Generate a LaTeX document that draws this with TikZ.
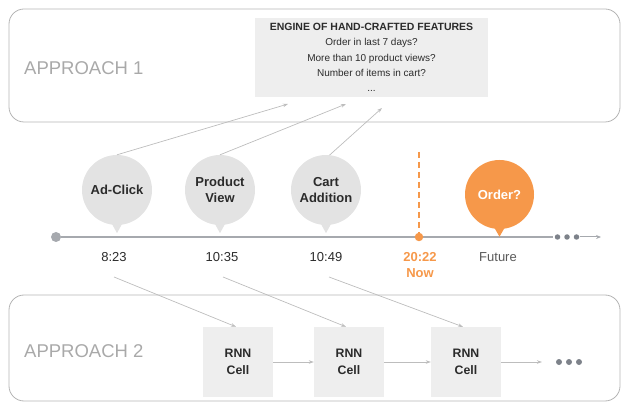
\documentclass[tikz,border=0pt]{standalone}
\usepackage{fontspec}
\setmainfont{Liberation Sans}
\usetikzlibrary{arrows.meta}
\definecolor{framegray}{HTML}{B4B4B4}
\definecolor{labelgray}{HTML}{A9A9A9}
\definecolor{bubblegray}{HTML}{E3E3E3}
\definecolor{boxgray}{HTML}{EEEEEE}
\definecolor{linkgray}{HTML}{BDBDBD}
\definecolor{axisgray}{HTML}{A6A9AE}
\definecolor{dotgray}{HTML}{7D828A}
\definecolor{textdark}{HTML}{2B2B2B}
\definecolor{accent}{HTML}{F6984A}
\tikzset{
  frame/.style={draw=framegray, line width=0.8pt, rounded corners=15pt},
  approach/.style={text=labelgray, font=\fontsize{18.5}{20}\selectfont, anchor=west, inner sep=0pt},
  bubble/.style={circle, fill=bubblegray, minimum size=70pt, inner sep=0pt,
    align=center, text=textdark, font=\fontsize{13}{16}\selectfont\bfseries},
  timelabel/.style={text=textdark, font=\fontsize{13}{16}\selectfont, inner sep=1pt},
  cellbox/.style={fill=boxgray, minimum width=70pt, minimum height=70pt, inner sep=0pt,
    align=center, text=textdark, font=\fontsize{12.3}{17}\selectfont\bfseries},
  link/.style={draw=linkgray, line width=0.7pt, -{Stealth[length=5pt,width=3.5pt]}},
}
\begin{document}
\begin{tikzpicture}[x=1pt, y=-1pt]
\useasboundingbox (0,0) rectangle (621,403);

% approach frames
\draw[frame] (9,9) rectangle (620,122);
\draw[frame] (9,295) rectangle (620,401);
\node[approach] (ap1) at (24,68) {APPROACH 1};
\node[approach] (ap2) at (24,351) {APPROACH 2};

% feature engine box
\node[fill=boxgray, minimum width=233pt, minimum height=79pt, inner sep=0pt,
      align=center, text=textdark, font=\fontsize{10}{15.2}\selectfont] (feat) at (371.5,57.5)
  {{\fontsize{10.5}{15.2}\selectfont\bfseries ENGINE OF HAND-CRAFTED FEATURES}\\
   Order in last 7 days?\\ More than 10 product views?\\ Number of items in cart?\\ ...};

% timeline axis
\node[circle, fill=axisgray, minimum size=10pt, inner sep=0pt] (start) at (56,237) {};
\coordinate (axisend) at (553,237);
\draw[axisgray, line width=1.2pt] (start) -- (axisend);
\node[circle, fill=dotgray, minimum size=5.5pt, inner sep=0pt] (d1) at (557.5,237) {};
\node[circle, fill=dotgray, minimum size=5.5pt, inner sep=0pt] (d2) at (567,237) {};
\node[circle, fill=dotgray, minimum size=5.5pt, inner sep=0pt] (d3) at (576.5,237) {};
\coordinate (axistip) at (601,237);
\draw[axisgray, line width=1pt, -{Stealth[length=5pt,width=4pt]}] (d3) ++(3,0) -- (axistip);

% event bubbles
\foreach \nm/\x/\y/\txt/\col in {adclick/117/190/Ad-Click/bubblegray,
    pview/220/190/Product\\View/bubblegray,
    cart/326/190/Cart\\Addition/bubblegray} {
  \node[bubble, fill=\col] (\nm) at (\x,\y) {\txt};
  \fill[\col] ([xshift=-6pt,yshift=3pt]\nm.south) -- ([xshift=6pt,yshift=3pt]\nm.south)
    -- ([yshift=-8pt]\nm.south) -- cycle;
}
\node[bubble, fill=accent, text=white, minimum size=69pt] (order) at (499.5,194.5) {Order?};
\fill[accent] ([xshift=-6pt,yshift=3pt]order.south) -- ([xshift=6pt,yshift=3pt]order.south)
  -- ([yshift=-7.5pt]order.south) -- cycle;

% now marker
\coordinate (nowtop) at (419,152);
\node[circle, fill=accent, minimum size=8.5pt, inner sep=0pt] (nowdot) at (419,237) {};
\draw[accent, line width=1.6pt, dash pattern=on 6pt off 4pt] (nowtop) -- (nowdot);

% timestamps
\node[timelabel] (t1) at (114,257) {8:23};
\node[timelabel] (t2) at (222,257) {10:35};
\node[timelabel] (t3) at (326,257) {10:49};
\node[timelabel, text=accent, font=\fontsize{13}{16}\selectfont\bfseries, align=center] (tnow) at (420,265) {20:22\\Now};
\node[timelabel, text=black!65] (tfut) at (498,257) {Future};

% links into the feature engine
\coordinate (f1) at (288,104);
\coordinate (f2) at (346,104);
\coordinate (f3) at (382,108);
\draw[link] (adclick.north) -- (f1);
\draw[link] (pview.north) -- (f2);
\draw[link] (cart.84) -- (f3);

% RNN chain
\node[cellbox] (c1) at (238,362) {RNN\\Cell};
\node[cellbox] (c2) at (349,362) {RNN\\Cell};
\node[cellbox] (c3) at (466,362) {RNN\\Cell};
\coordinate (cnext) at (542,362);
\draw[link] (c1) -- (c2);
\draw[link] (c2) -- (c3);
\draw[link] (c3) -- (cnext);
\node[circle, fill=dotgray, minimum size=6pt, inner sep=0pt] (e1) at (559,362) {};
\node[circle, fill=dotgray, minimum size=6pt, inner sep=0pt] (e2) at (569,362) {};
\node[circle, fill=dotgray, minimum size=6pt, inner sep=0pt] (e3) at (579,362) {};

% links from events into the cells
\coordinate (s1) at (114,277);
\coordinate (s2) at (223,277);
\coordinate (s3) at (329,277);
\draw[link] (s1) -- ([xshift=-2pt]c1.north);
\draw[link] (s2) -- ([xshift=-3pt]c2.north);
\draw[link] (s3) -- ([xshift=-3pt]c3.north);
\end{tikzpicture}
\end{document}
